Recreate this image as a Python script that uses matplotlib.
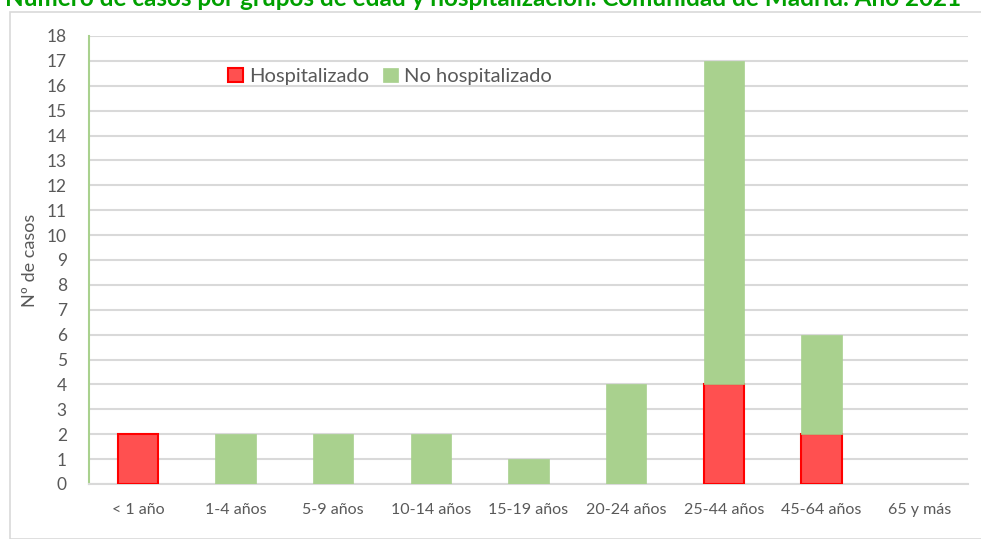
import numpy as np
import matplotlib.pyplot as plt
from matplotlib.patches import Rectangle

categories = ['< 1 año', '1-4 años', '5-9 años', '10-14 años', '15-19 años',
              '20-24 años', '25-44 años', '45-64 años', '65 y más']
hospitalizado = [2, 0, 0, 0, 0, 0, 4, 2, 0]
no_hospitalizado = [0, 2, 2, 2, 1, 4, 13, 4, 0]
yticks = list(range(0, 19))

title = 'Número de casos por grupos de edad y hospitalización. Comunidad de Madrid. Año 2021'

plt.rcParams['font.family'] = ['Lato', 'DejaVu Sans']

W, H = 981, 539
fig = plt.figure(figsize=(W / 100, H / 100), dpi=100)

# chart frame
fig.patches.append(Rectangle((10 / W, 0), 1.2, 1 - 12 / H, transform=fig.transFigure,
                             fill=False, edgecolor='#d9d9d9', linewidth=1.2))

# title is partly cut off at the top of the image (as in the reference)
fig.text(5 / W, 1 - 6 / H, title, color='#00a000', fontsize=17.5, fontweight='bold',
         va='baseline', ha='left')

ax = fig.add_axes([89 / W, 1 - 484 / H, (968 - 89) / W, (484 - 36) / H])

x = np.arange(len(categories))
width = 0.41
hosp = np.array(hospitalizado)
nohosp = np.array(no_hospitalizado)

red_mask = hosp > 0
ax.bar(x[red_mask], hosp[red_mask], width, color='#ff5050', edgecolor='#ff0000',
       linewidth=1.5, label='Hospitalizado', zorder=3)
green_mask = nohosp > 0
ax.bar(x[green_mask], nohosp[green_mask], width, bottom=hosp[green_mask],
       color='#a9d18e', edgecolor='#a9d18e', linewidth=0.5, label='No hospitalizado', zorder=3)

ax.set_xlim(-0.5, len(categories) - 0.5)
ax.set_ylim(0, 18)
ax.set_yticks(yticks)
ax.set_xticks(x)
ax.set_xticklabels(categories)
ax.grid(axis='y', color='#d9d9d9', linewidth=1.5, zorder=0)
ax.tick_params(axis='both', length=0, colors='#595959')
ax.tick_params(axis='x', pad=14, labelsize=11.5)
ax.tick_params(axis='y', pad=16, labelsize=12.5)

for s in ['top', 'right']:
    ax.spines[s].set_visible(False)
ax.spines['left'].set_color('#a9d18e')
ax.spines['left'].set_linewidth(1.5)
ax.spines['bottom'].set_color('#d9d9d9')
ax.spines['bottom'].set_linewidth(1.5)

ax.set_ylabel('Nº de casos', color='#595959', fontsize=13, labelpad=6)

ax.legend(loc='upper left', bbox_to_anchor=(0.137, 0.97), ncol=2, frameon=False,
          fontsize=14.5, labelcolor='#595959', handlelength=0.75, handleheight=0.75,
          handletextpad=0.3, columnspacing=0.7)

fig.savefig('out.png', dpi=100)
